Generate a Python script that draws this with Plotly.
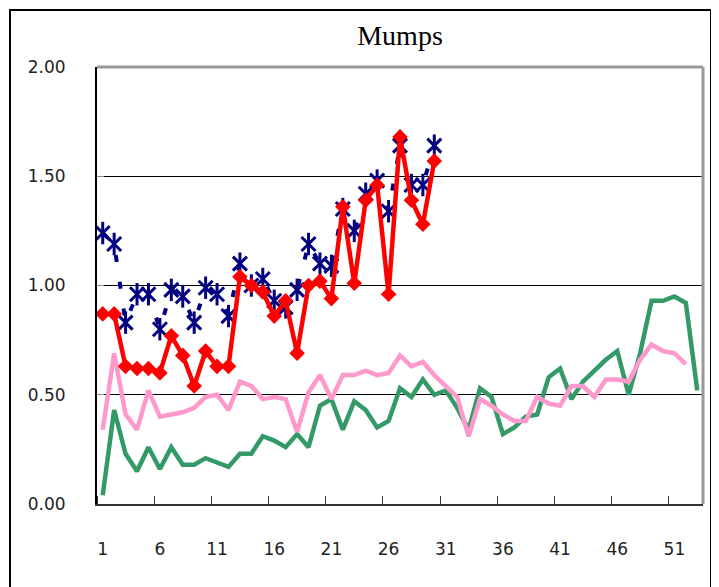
import plotly.graph_objects as go

weeks = list(range(1, 54))

# Navy series (asterisk markers, dashed line) - weeks 1..30
navy_vals = [1.24, 1.19, 0.83, 0.96, 0.96, 0.80, 0.98, 0.95, 0.83, 0.99,
             0.96, 0.86, 1.10, 1.00, 1.03, 0.93, 0.90, 0.98, 1.19, 1.10,
             1.09, 1.35, 1.25, 1.42, 1.48, 1.34, 1.64, 1.46, 1.46, 1.64]

# Red series (diamond markers) - weeks 1..30
red_vals = [0.87, 0.87, 0.63, 0.62, 0.62, 0.60, 0.77, 0.68, 0.54, 0.70,
            0.63, 0.63, 1.04, 1.00, 0.97, 0.86, 0.93, 0.69, 1.00, 1.02,
            0.94, 1.36, 1.01, 1.39, 1.46, 0.96, 1.68, 1.39, 1.28, 1.57]

# Pink series - weeks 1..52
pink_vals = [0.34, 0.69, 0.41, 0.34, 0.52, 0.40, 0.41, 0.42, 0.44, 0.49,
             0.50, 0.43, 0.56, 0.54, 0.48, 0.49, 0.48, 0.33, 0.51, 0.59,
             0.48, 0.59, 0.59, 0.61, 0.59, 0.60, 0.68, 0.63, 0.65, 0.59,
             0.54, 0.49, 0.31, 0.48, 0.45, 0.41, 0.38, 0.38, 0.49, 0.46,
             0.45, 0.54, 0.54, 0.49, 0.57, 0.57, 0.56, 0.66, 0.73, 0.70,
             0.69, 0.64]

# Green series - weeks 1..53
green_vals = [0.04, 0.43, 0.23, 0.15, 0.26, 0.16, 0.26, 0.18, 0.18, 0.21,
              0.19, 0.17, 0.23, 0.23, 0.31, 0.29, 0.26, 0.32, 0.26, 0.45,
              0.48, 0.34, 0.47, 0.43, 0.35, 0.38, 0.53, 0.49, 0.57, 0.50,
              0.52, 0.44, 0.34, 0.53, 0.49, 0.32, 0.35, 0.40, 0.41, 0.58,
              0.62, 0.48, 0.56, 0.61, 0.66, 0.70, 0.50, 0.69, 0.93, 0.93,
              0.95, 0.92, 0.52]

x_tick_vals = [1, 6, 11, 16, 21, 26, 31, 36, 41, 46, 51]
x_tick_text = [str(v) for v in x_tick_vals]
x_minor_ticks = [0.5 + 5 * k for k in range(11)]
y_tick_vals = [0, 0.5, 1.0, 1.5, 2.0]
y_tick_text = ["0.00", "0.50", "1.00", "1.50", "2.00"]

NAVY = "#000080"
RED = "#FF0000"
PINK = "#FF99CC"
GREEN = "#339966"

fig = go.Figure()

fig.add_trace(go.Scatter(x=weeks[:len(green_vals)], y=green_vals, mode="lines",
                         line=dict(color=GREEN, width=4.5), showlegend=False))
fig.add_trace(go.Scatter(x=weeks[:len(pink_vals)], y=pink_vals, mode="lines",
                         line=dict(color=PINK, width=4.5), showlegend=False))
fig.add_trace(go.Scatter(x=weeks[:len(navy_vals)], y=navy_vals, mode="lines+markers",
                         line=dict(color=NAVY, width=4, dash="7px,20px"),
                         marker=dict(symbol="x-thin-open", size=14, color=NAVY,
                                     line=dict(color=NAVY, width=3)),
                         showlegend=False))
fig.add_trace(go.Scatter(x=weeks[:len(navy_vals)], y=navy_vals, mode="markers",
                         marker=dict(symbol="line-ns-open", size=16, color=NAVY,
                                     line=dict(color=NAVY, width=3)),
                         showlegend=False))
fig.add_trace(go.Scatter(x=weeks[:len(red_vals)], y=red_vals, mode="lines+markers",
                         line=dict(color=RED, width=4.5),
                         marker=dict(symbol="diamond", size=12, color=RED),
                         showlegend=False))

# page body has an 8px margin, so figure coordinates are offset by 8px
OFF = 8
W, H = 719, 587
L, T = 97 - OFF, 67 - OFF
R, B = W - (703 - OFF), H - (504 - OFF)
pw, ph = W - L - R, H - T - B

def px_x(p):
    return (p - OFF - L) / pw

def px_y(p):
    return (H - B - (p - OFF)) / ph

fig.update_layout(
    width=W, height=H,
    margin=dict(l=L, r=R, t=T, b=B, autoexpand=False),
    paper_bgcolor="white", plot_bgcolor="white",
    title=dict(text="Mumps", x=0.5, xref="paper", xanchor="center",
               y=1 - (35 - OFF) / H, yref="container", yanchor="middle",
               font=dict(family="Liberation Serif", size=28, color="black")),
    xaxis=dict(range=[0.5, 53.5], tickmode="array", tickvals=x_tick_vals,
               ticktext=x_tick_text, ticks="", showgrid=False, zeroline=False,
               showline=True, linecolor="#333333", linewidth=2,
               ticklabelstandoff=29, automargin=False,
               tickfont=dict(family="DejaVu Sans", size=17, color="#222222"),
               minor=dict(tickmode="array", tickvals=x_minor_ticks, ticks="inside",
                          ticklen=8, tickcolor="#333333", tickwidth=1, showgrid=False)),
    yaxis=dict(range=[0, 2], tickmode="array", tickvals=y_tick_vals,
               ticktext=y_tick_text, ticks="inside", ticklen=7, tickcolor="#888888",
               showgrid=True, gridcolor="black", gridwidth=1, zeroline=False,
               showline=True, linecolor="black", linewidth=2,
               ticklabelstandoff=26, automargin=False,
               tickfont=dict(family="DejaVu Sans", size=17, color="#222222")),
    shapes=[
        dict(type="line", xref="paper", yref="paper", x0=0, x1=1, y0=1, y1=1,
             line=dict(color="#999999", width=3), layer="above"),
        dict(type="line", xref="paper", yref="paper", x0=1, x1=1, y0=0, y1=1,
             line=dict(color="#999999", width=3), layer="above"),
        dict(type="rect", xref="paper", yref="paper",
             x0=px_x(10), x1=px_x(711), y0=px_y(620), y1=px_y(10),
             line=dict(color="black", width=2), layer="above"),
    ],
)

fig.write_html("out.html")
